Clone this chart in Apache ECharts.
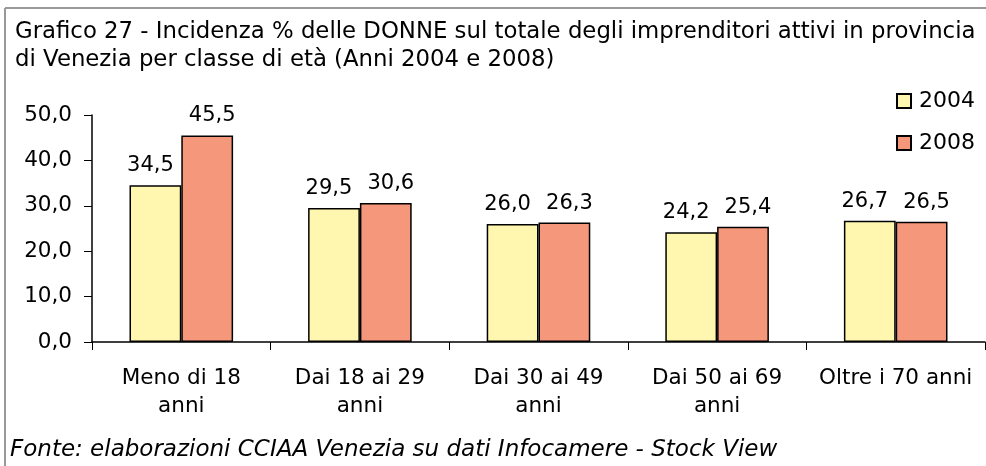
<!DOCTYPE html>
<html>
<head>
<meta charset="utf-8">
<script src="https://cdn.jsdelivr.net/npm/echarts@6/dist/echarts.min.js"></script>
<style>
  html, body { margin: 0; padding: 0; background: #fff; }
  #chart { width: 986px; height: 466px; }
</style>
</head>
<body>
<div id="chart"></div>
<script>
const categories = ['Meno di 18\nanni', 'Dai 18 ai 29\nanni', 'Dai 30 ai 49\nanni', 'Dai 50 ai 69\nanni', 'Oltre i 70 anni']
const values2004 = [34.5, 29.5, 26.0, 24.2, 26.7]
const values2008 = [45.5, 30.6, 26.3, 25.4, 26.5]
const seriesNames = ['2004', '2008']

const FONT = '"DejaVu Sans", sans-serif'
const fmt = v => v.toFixed(1).replace('.', ',')

const chart = echarts.init(document.getElementById('chart'))

const option = {
  animation: false,
  textStyle: { fontFamily: FONT, color: '#000' },
  title: {
    text: 'Grafico 27 - Incidenza % delle DONNE sul totale degli imprenditori attivi in provincia\ndi Venezia per classe di età (Anni 2004 e 2008)',
    left: 10,
    top: 13,
    textStyle: { fontFamily: FONT, fontSize: 22.8, fontWeight: 'normal', color: '#000', lineHeight: 28 }
  },
  legend: {
    data: seriesNames,
    orient: 'vertical',
    right: 6,
    top: 85,
    icon: 'rect',
    itemWidth: 14,
    itemHeight: 14,
    itemGap: 20,
    textStyle: { fontFamily: FONT, fontSize: 22, color: '#000', padding: [0, 0, 0, 3] }
  },
  grid: { left: 92, right: 1, top: 115, bottom: 124 },
  xAxis: {
    type: 'category',
    data: categories,
    axisLine: { lineStyle: { color: '#000', width: 1.5 } },
    axisTick: { show: true, length: 8, lineStyle: { color: '#000' } },
    axisLabel: { fontFamily: FONT, fontSize: 21.5, color: '#000', lineHeight: 28, margin: 22, interval: 0 }
  },
  yAxis: {
    type: 'value',
    min: 0,
    max: 50,
    interval: 10,
    splitLine: { show: false },
    axisLine: { show: true, lineStyle: { color: '#000', width: 1.5 } },
    axisTick: { show: true, length: 8, lineStyle: { color: '#000' } },
    axisLabel: { fontFamily: FONT, fontSize: 21.5, color: '#000', margin: 20, formatter: v => fmt(v) }
  },
  series: [
    {
      name: '2004',
      type: 'bar',
      data: values2004,
      barWidth: '29%',
      barGap: '0%',
      itemStyle: { color: '#FFF7AF', borderColor: '#000', borderWidth: 1.5 },
      label: { show: true, position: 'top', distance: 9, offset: [-5, 0], fontFamily: FONT, fontSize: 21, color: '#000', formatter: p => fmt(p.value) }
    },
    {
      name: '2008',
      type: 'bar',
      data: values2008,
      barWidth: '29%',
      barGap: '0%',
      itemStyle: { color: '#F5977A', borderColor: '#000', borderWidth: 1.5 },
      label: { show: true, position: 'top', distance: 9, offset: [5, 0], fontFamily: FONT, fontSize: 21, color: '#000', formatter: p => fmt(p.value) }
    }
  ],
  graphic: [
    { type: 'line', shape: { x1: 5, y1: 8, x2: 986, y2: 8 }, style: { stroke: '#999', lineWidth: 2 } },
    { type: 'line', shape: { x1: 5, y1: 8, x2: 5, y2: 466 }, style: { stroke: '#999', lineWidth: 2 } },
    {
      type: 'text',
      left: 10,
      top: 439,
      style: { text: 'Fonte: elaborazioni CCIAA Venezia su dati Infocamere - Stock View', font: 'italic 23px ' + FONT, fill: '#000' }
    }
  ]
}

chart.setOption(option)
window.addEventListener('resize', () => chart.resize())
</script>
</body>
</html>
